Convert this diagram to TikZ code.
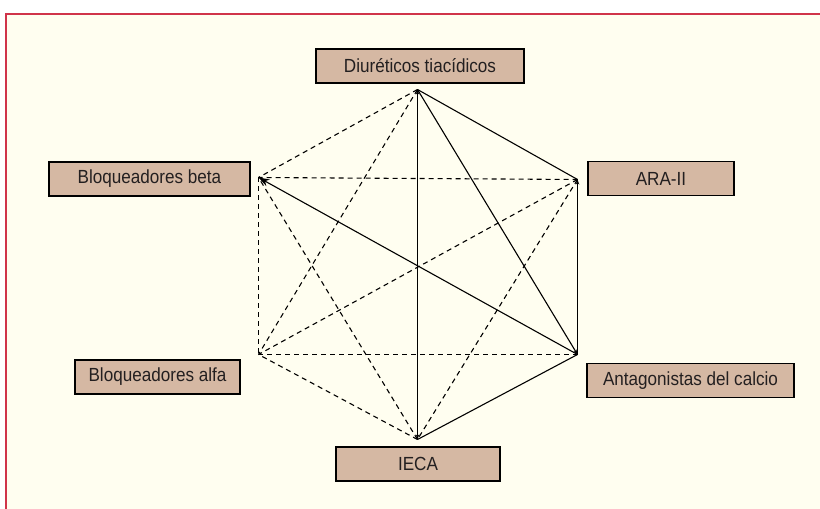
\documentclass[tikz,border=0pt]{standalone}
\usepackage{fontspec}
\setmainfont[FakeStretch=0.9]{Liberation Sans}
\usetikzlibrary{arrows.meta}
\definecolor{cream}{RGB}{255,254,240}
\definecolor{tan}{RGB}{213,184,163}
\definecolor{redline}{RGB}{208,52,74}
\definecolor{txt}{RGB}{35,31,32}
\begin{document}
\begin{tikzpicture}[x=1pt,y=1pt,
  lab/.style={draw=black,line width=1.4pt,fill=tan,minimum height=34pt,inner sep=0pt,font=\fontsize{19}{21}\selectfont,text=txt},
  sol/.style={line width=1.1pt},
  dsh/.style={line width=1.1pt,dash pattern=on 5pt off 4pt},
  bigtip/.style={-{Stealth[length=11pt,width=7.5pt]}}]
\tikzset{smalltip/.tip={Stealth[length=5pt,width=3.5pt]}}
\useasboundingbox (0,0) rectangle (820,509);
\fill[white] (0,0) rectangle (820,509);
\fill[cream] (6,0) rectangle (820,494.5);
\draw[redline,line width=2pt] (6,0) -- (6,494.5) -- (820,494.5);
% labels
\node[lab,minimum width=208pt] (nD) at (420,443) {Diuréticos tiacídicos};
\node[lab,minimum width=201pt] (nB) at (149.5,330) {Bloqueadores beta};
\node[lab,minimum width=146pt] (nA) at (661,330.5) {ARA-II};
\node[lab,minimum width=165pt] (nL) at (157.5,132) {Bloqueadores alfa};
\node[lab,minimum width=207pt] (nC) at (690.5,128.5) {Antagonistas del calcio};
\node[lab,minimum width=164pt] (nI) at (418,45) {IECA};
% vertices
\coordinate (D) at (417.5,419.5);
\coordinate (A) at (577.5,329.5);
\coordinate (C) at (577.5,154.5);
\coordinate (I) at (417.5,69.5);
\coordinate (L) at (258.5,154.5);
\coordinate (B) at (258.5,331.5);
% dashed
\draw[dsh] (D) -- (B);
\draw[dsh] (D) -- (L);
\draw[dsh] (A) -- (B);
\draw[dsh] (A) -- (L);
\draw[dsh] (A) -- (I);
\draw[dsh] (C) -- (L);
\draw[dsh] (I) -- (B);
\draw[dsh] (I) -- (L);
\draw[dsh] (B) -- (L);
% solid
\draw[sol,smalltip-smalltip] (I) -- (D);
\draw[sol] (D) -- (A);
\draw[sol,-smalltip] (D) -- (C);
\draw[sol,-smalltip] (C) -- (A);
\draw[sol] (C) -- (I);
\draw[sol,bigtip] (C) -- (B);
\end{tikzpicture}
\end{document}
